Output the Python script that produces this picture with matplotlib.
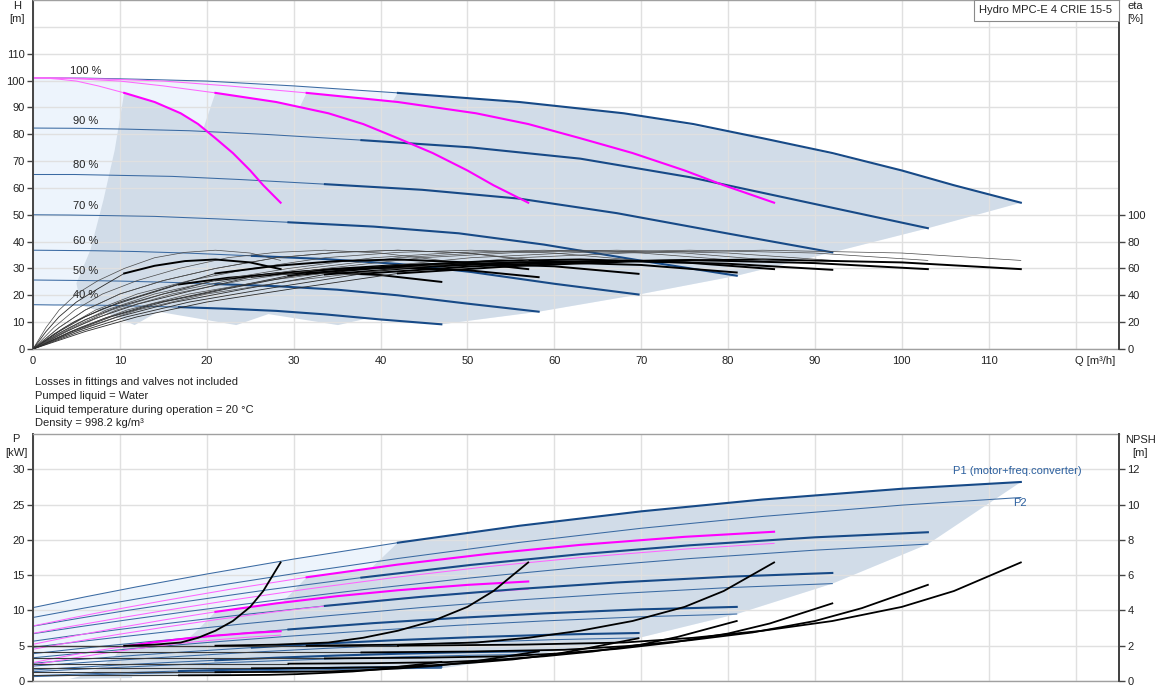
import matplotlib
matplotlib.use("Agg")
import matplotlib.pyplot as plt
from matplotlib.patches import Rectangle
from matplotlib.transforms import blended_transform_factory

plt.rcParams['font.family'] = ['Liberation Sans', 'DejaVu Sans']

# ---------------- data ----------------
# flow points along each curve [m3/h]
Q_1P    = [0, 1.5, 3, 5, 7.5, 10.5, 14, 17.5, 21, 25, 28.5]
Q_2P    = [0, 3, 6, 10, 15, 21, 28, 35, 42, 50, 57]
Q_3P    = [0, 4.5, 9, 15, 22.5, 31.5, 42, 52.5, 63, 75, 85.3]
Q_4P100 = [0, 6, 12, 20, 30, 42, 56, 70, 84, 100, 113.7]
Q_4P90  = [0, 5.4, 10.8, 18, 27, 37.8, 50.4, 63, 75.6, 90, 103]
Q_4P80  = [0, 4.8, 9.6, 16, 24, 33.6, 44.8, 56, 67.2, 80, 92]
Q_4P70  = [0, 4.2, 8.4, 14, 21, 29.4, 39.2, 49, 58.8, 70, 81]
Q_4P60  = [0, 3.6, 7.2, 12, 18, 25.2, 33.6, 42, 50.4, 60, 69.7]
Q_4P50  = [0, 3, 6, 10, 15, 21, 28, 35, 42, 50, 58.2]
Q_4P40  = [0, 2.4, 4.8, 8, 12, 16.8, 22.4, 28, 33.6, 40, 47]

# denser flow points on the operating (thick) part of each curve
QF_1P    = [10.5, 14, 17, 19, 21, 23, 25, 26.5, 28.5]
QF_2P    = [21, 28, 34, 38, 42, 46, 50, 53, 57]
QF_3P    = [31.5, 42, 51, 57, 63, 69, 75, 79.5, 85.3]
QF_4P100 = [42, 56, 68, 76, 84, 92, 100, 106, 113.7]
QF_4P90  = [37.8, 50.4, 61.2, 68.4, 75.6, 82.8, 90, 95.4, 103]
QF_4P80  = [33.6, 44.8, 54.4, 60.8, 67.2, 73.6, 80, 84.8, 92]
QF_4P70  = [29.4, 39.2, 47.6, 53.2, 58.8, 64.4, 70, 74.2, 81]
QF_4P60  = [25.2, 33.6, 40.8, 45.6, 50.4, 55.2, 60, 63.6, 69.7]
QF_4P50  = [21, 28, 34, 38, 42, 46, 50, 53, 58.2]
QF_4P40  = [16.8, 22.4, 27.2, 30.4, 33.6, 36.8, 40, 42.4, 47]

# head [m]
H_100 = [101, 100.9, 100.5, 99.8, 98.0, 95.4, 92.1, 87, 78.5, 66, 54.5]
H_90  = [82.3, 82.2, 81.9, 81.3, 79.9, 77.8, 75.1, 70.9, 64.0, 54.0, 45.0]
H_80  = [65.0, 65.0, 64.7, 64.3, 63.1, 61.4, 59.3, 56.0, 50.6, 43.0, 36.0]
H_70  = [50.0, 49.9, 49.7, 49.4, 48.5, 47.2, 45.6, 43.1, 38.9, 32.9, 27.3]
H_60  = [36.8, 36.7, 36.6, 36.3, 35.7, 34.7, 33.5, 31.7, 28.7, 24.3, 20.3]
H_50  = [25.7, 25.6, 25.5, 25.3, 24.9, 24.2, 23.4, 22.1, 20.0, 16.9, 13.9]
H_40  = [16.5, 16.4, 16.4, 16.3, 16.0, 15.6, 15.0, 14.2, 12.9, 11.0, 9.2]
HF_100 = [95.4, 92.0, 87.8, 83.8, 78.5, 73.0, 66.5, 61.0, 54.5]

# efficiency [%]
ETA_HYD     = [0, 16, 29, 41, 51, 60, 68, 72, 73.6, 71.5, 66]
ETA_TOT_100 = [0, 13, 24, 35, 45, 56.3, 62, 65.5, 66.7, 64.5, 59.5]
ETA_TOT_90  = [0, 13, 24, 35, 45, 56, 61.5, 65, 66.3, 64, 59.5]
ETA_TOT_80  = [0, 12.8, 23.6, 34.5, 44.3, 55.5, 61, 64.5, 65.7, 63.5, 59]
ETA_TOT_70  = [0, 12.6, 23.3, 34, 43.6, 54.6, 60.1, 63.5, 64.7, 62.6, 57]
ETA_TOT_60  = [0, 12.4, 22.9, 33.4, 43, 53.8, 59.2, 62.6, 63.7, 61.6, 56]
ETA_TOT_50  = [0, 11.8, 21.8, 31.9, 41, 51.2, 56.4, 59.6, 60.7, 58.7, 53.5]
ETA_TOT_40  = [0, 11.1, 20.5, 29.9, 38.5, 48.1, 53, 56, 57, 55.1, 50]

# power P1 (motor + converter) [kW]
P1_1P    = [2.6, 2.98, 3.34, 3.79, 4.32, 4.9, 5.5, 6.01, 6.43, 6.81, 7.05]
P1_2P    = [5.2, 5.96, 6.68, 7.58, 8.64, 9.8, 11.0, 12.02, 12.86, 13.62, 14.1]
P1_3P    = [7.8, 8.94, 10.02, 11.37, 12.96, 14.7, 16.5, 18.03, 19.29, 20.43, 21.15]
P1_4P100 = [10.4, 11.92, 13.36, 15.16, 17.28, 19.6, 22.0, 24.04, 25.72, 27.24, 28.2]
P1_4P90  = [7.77, 8.91, 9.99, 11.33, 12.92, 14.65, 16.45, 17.97, 19.23, 20.36, 21.08]
P1_4P80  = [5.64, 6.47, 7.25, 8.23, 9.38, 10.64, 11.94, 13.05, 13.96, 14.78, 15.31]
P1_4P70  = [3.87, 4.44, 4.98, 5.65, 6.44, 7.30, 8.20, 8.95, 9.58, 10.15, 10.50]
P1_4P60  = [2.51, 2.88, 3.22, 3.66, 4.17, 4.73, 5.31, 5.80, 6.20, 6.57, 6.80]
P1_4P50  = [1.56, 1.79, 2.0, 2.27, 2.59, 2.94, 3.30, 3.61, 3.86, 4.09, 4.23]
P1_4P40  = [0.75, 0.86, 0.96, 1.09, 1.24, 1.41, 1.58, 1.72, 1.85, 1.95, 2.02]

# power P2 (shaft) [kW]
P2_1P    = [2.25, 2.59, 2.91, 3.32, 3.80, 4.34, 4.91, 5.41, 5.83, 6.23, 6.50]
P2_2P    = [4.5, 5.18, 5.82, 6.64, 7.6, 8.68, 9.82, 10.82, 11.66, 12.46, 13.0]
P2_3P    = [6.75, 7.77, 8.73, 9.96, 11.4, 13.02, 14.73, 16.23, 17.49, 18.69, 19.5]
P2_4P100 = [9.0, 10.36, 11.64, 13.28, 15.2, 17.36, 19.64, 21.64, 23.32, 24.92, 26.0]
P2_4P90  = [6.7, 7.7, 8.66, 9.88, 11.31, 12.92, 14.61, 16.1, 17.35, 18.54, 19.4]
P2_4P80  = [4.78, 5.5, 6.18, 7.05, 8.07, 9.21, 10.42, 11.49, 12.38, 13.23, 13.8]
P2_4P70  = [3.29, 3.78, 4.25, 4.85, 5.55, 6.34, 7.17, 7.9, 8.51, 9.1, 9.49]
P2_4P60  = [2.12, 2.43, 2.74, 3.12, 3.57, 4.08, 4.62, 5.09, 5.48, 5.86, 6.11]
P2_4P50  = [1.32, 1.52, 1.70, 1.94, 2.22, 2.54, 2.87, 3.16, 3.41, 3.64, 3.80]
P2_4P40  = [0.62, 0.72, 0.81, 0.92, 1.05, 1.20, 1.36, 1.50, 1.61, 1.73, 1.80]

# NPSH [m]: start value (thin part) and operating part at the QF_* points
NPSH0  = [2.0, 1.62, 1.28, 0.98, 0.72, 0.5, 0.32]          # 100 % ... 40 %
NPSHF_100 = [2.0, 2.06, 2.18, 2.45, 2.85, 3.4, 4.2, 5.1, 6.72]
NPSHF_90  = [1.62, 1.67, 1.77, 1.98, 2.31, 2.75, 3.4, 4.13, 5.45]
NPSHF_80  = [1.28, 1.32, 1.40, 1.57, 1.82, 2.18, 2.69, 3.26, 4.4]
NPSHF_70  = [0.98, 1.01, 1.07, 1.20, 1.40, 1.67, 2.06, 2.5, 3.4]
NPSHF_60  = [0.72, 0.74, 0.78, 0.88, 1.03, 1.22, 1.51, 1.84, 2.42]
NPSHF_50  = [0.5, 0.515, 0.545, 0.61, 0.71, 0.85, 1.05, 1.28, 1.68]
NPSHF_40  = [0.32, 0.33, 0.35, 0.39, 0.46, 0.54, 0.67, 0.82, 1.08]

# shaded operating areas (outline points)
TOP_DARK_Q = [5.5, 5.0, 6.6, 8.1, 9.4, 10.5, 14, 17, 19.6, 21, 28, 30.7, 31.5,
              41.4, 42, 56, 68, 84, 100, 113.7, 103, 92, 81, 69.7, 58.2, 47,
              38.8, 35.1, 27.1, 23.4, 14.4, 11.7, 9.0]
TOP_DARK_H = [16.3, 24.5, 36.8, 55.4, 74, 95.4, 92.0, 87.8, 82, 95.4, 92.0, 90.1, 95.4,
              92.3, 95.4, 92.0, 87.8, 78.5, 66.5, 54.5, 45, 36, 27.3, 20.3, 13.9, 9.2,
              11.6, 8.9, 13.0, 8.9, 13.9, 8.9, 12.8]
BOT_DARK_Q = [4.2, 5.25, 6.3, 7.35, 8.4, 9.45, 10.5, 14, 17.85, 18.9, 21, 28.8, 31.5,
              38.8, 42, 56, 70, 84, 100, 113.7, 103, 92, 81, 69.7, 58.2, 47, 40,
              34.2, 34.2, 25.2, 22.8, 22.8, 16.8, 11.4, 11.4, 7.0]
BOT_DARK_P = [0.3, 0.61, 1.06, 1.68, 2.51, 3.57, 4.9, 5.5, 6.05, 7.14, 9.8, 11.26, 14.7,
              15.85, 19.6, 22.0, 24.04, 25.72, 27.24, 28.2, 19.4, 13.8, 9.5, 6.1, 3.8,
              1.8, 1.73, 1.62, 1.25, 1.12, 1.08, 0.83, 0.75, 0.63, 0.42, 0.35]

SPEED_LABELS = ['100 %', '90 %', '80 %', '70 %', '60 %', '50 %', '40 %']
NOTES = ['Losses in fittings and valves not included',
         'Pumped liquid = Water',
         'Liquid temperature during operation = 20 °C',
         'Density = 998.2 kg/m³']
TITLE = 'Hydro MPC-E 4 CRIE 15-5'
X_TICKS = list(range(0, 120, 10))

# ---------------- styling ----------------
W, Hpx = 1162, 700
BLUE = '#174a87'
BLUE_THIN = '#3a6aa2'
MAG = '#ff00ff'
MAG_THIN = '#ff66ff'
LIGHT = '#edf4fc'
DARK = '#d1dce8'
GRIDC = '#e0e0e0'
TXT = '#222222'
FS = 8
TH = 5  # index where the thick (operating) part starts

curves = [
    # Q, QF, H, HF, eta_tot, P1, P2, NPSH0, NPSHF, kind
    (Q_4P40, QF_4P40, H_40, None, ETA_TOT_40, P1_4P40, P2_4P40, NPSH0[6], NPSHF_40, 'b'),
    (Q_4P50, QF_4P50, H_50, None, ETA_TOT_50, P1_4P50, P2_4P50, NPSH0[5], NPSHF_50, 'b'),
    (Q_4P60, QF_4P60, H_60, None, ETA_TOT_60, P1_4P60, P2_4P60, NPSH0[4], NPSHF_60, 'b'),
    (Q_4P70, QF_4P70, H_70, None, ETA_TOT_70, P1_4P70, P2_4P70, NPSH0[3], NPSHF_70, 'b'),
    (Q_4P80, QF_4P80, H_80, None, ETA_TOT_80, P1_4P80, P2_4P80, NPSH0[2], NPSHF_80, 'b'),
    (Q_4P90, QF_4P90, H_90, None, ETA_TOT_90, P1_4P90, P2_4P90, NPSH0[1], NPSHF_90, 'b'),
    (Q_4P100, QF_4P100, H_100, HF_100, ETA_TOT_100, P1_4P100, P2_4P100, NPSH0[0], NPSHF_100, 'b'),
    (Q_3P, QF_3P, H_100, HF_100, ETA_TOT_100, P1_3P, P2_3P, NPSH0[0], NPSHF_100, 'm'),
    (Q_2P, QF_2P, H_100, HF_100, ETA_TOT_100, P1_2P, P2_2P, NPSH0[0], NPSHF_100, 'm'),
    (Q_1P, QF_1P, H_100, HF_100, ETA_TOT_100, P1_1P, P2_1P, NPSH0[0], NPSHF_100, 'm'),
]

fig = plt.figure(figsize=(W / 100, Hpx / 100), dpi=100)
ax = fig.add_axes([33 / W, (Hpx - 349) / Hpx, 1086 / W, 349 / Hpx])
axb = fig.add_axes([33 / W, (Hpx - 681) / Hpx, 1086 / W, 247 / Hpx])


def style_axes(a, ylim, yticks, xlabels):
    a.set_xlim(0, 125)
    a.set_ylim(*ylim)
    a.set_xticks(X_TICKS)
    if xlabels:
        a.set_xticklabels([str(v) for v in X_TICKS])
    else:
        a.set_xticklabels([])
    a.set_yticks(yticks)
    a.grid(True, color=GRIDC, lw=1.0, zorder=0.5)
    a.axvline(120, color=GRIDC, lw=1.0, zorder=0.5)
    a.set_axisbelow(True)
    a.tick_params(axis='x', length=0, labelsize=FS, pad=5, colors=TXT)
    a.tick_params(axis='y', direction='out', length=4, width=1.0, color='#444444',
                  labelsize=FS, pad=2, labelcolor=TXT)
    for s in ('left', 'right'):
        a.spines[s].set_color('#444444')
        a.spines[s].set_linewidth(1.4)
    for s in ('top', 'bottom'):
        a.spines[s].set_color('#a0a0a0')
        a.spines[s].set_linewidth(1.0)


style_axes(ax, (0, 130), list(range(0, 111, 10)), True)
ax.axhline(120, color=GRIDC, lw=1.0, zorder=0.5)
style_axes(axb, (0, 35), list(range(0, 31, 5)), False)

# ---------- top: shaded areas ----------
light_q = Q_4P100 + [c[0][-1] for c in curves[5::-1]] + Q_4P40[::-1]
light_h = H_100 + [c[2][-1] for c in curves[5::-1]] + H_40[::-1]
ax.fill(light_q, light_h, color=LIGHT, lw=0, zorder=0.2)
ax.fill(TOP_DARK_Q, TOP_DARK_H, color=DARK, lw=0, zorder=0.3)

# ---------- bottom: shaded areas ----------
bl_q = Q_4P100 + [c[0][-1] for c in curves[5::-1]] + Q_4P40[::-1]
bl_p = P1_4P100 + [c[6][-1] for c in curves[5::-1]] + P2_4P40[::-1]
axb.fill(bl_q, bl_p, color=LIGHT, lw=0, zorder=0.2)
axb.fill(BOT_DARK_Q, BOT_DARK_P, color=DARK, lw=0, zorder=0.3)

# ---------- curves ----------
for q, qf, h, hf, et, p1, p2, n0, nf, kind in curves:
    c_thick, c_thin = (BLUE, BLUE_THIN) if kind == 'b' else (MAG, MAG_THIN)
    ax.plot(q[:TH + 1], h[:TH + 1], color=c_thin, lw=0.75, zorder=2)
    if hf is not None:
        ax.plot(qf, hf, color=c_thick, lw=1.5, zorder=3)
    else:
        ax.plot(q[TH:], h[TH:], color=c_thick, lw=1.5, zorder=3)
    axb.plot(q, p2, color=c_thin, lw=0.75, zorder=2)
    axb.plot(q[:TH + 1], p1[:TH + 1], color=c_thin, lw=0.75, zorder=2)
    axb.plot(q[TH:], p1[TH:], color=c_thick, lw=1.5, zorder=3)

ax_eta = ax.twinx()
ax_eta.set_ylim(0, 260)
ax_eta.set_yticks(list(range(0, 101, 20)))
ax_n = axb.twinx()
ax_n.set_ylim(0, 14)
ax_n.set_yticks(list(range(0, 13, 2)))
for a in (ax_eta, ax_n):
    a.set_xlim(0, 125)
    a.tick_params(axis='y', direction='out', length=4, width=1.0, color='#444444',
                  labelsize=FS, pad=2, labelcolor=TXT)
    for s in ('left', 'top', 'bottom'):
        a.spines[s].set_visible(False)
    a.spines['right'].set_color('#444444')
    a.spines['right'].set_linewidth(1.4)

for q, qf, h, hf, et, p1, p2, n0, nf, kind in curves:
    ax_eta.plot(q, ETA_HYD, color='#4a4a4a', lw=0.5)
    ax_eta.plot(q[:TH + 1], et[:TH + 1], color='#2a2a2a', lw=0.6)
    ax_eta.plot(q[TH:], et[TH:], color='black', lw=1.4)
    ax_n.plot([q[0], qf[0]], [n0, nf[0]], color='#3a3a3a', lw=0.8)
    ax_n.plot(qf, nf, color='black', lw=1.3)

# ---------- texts ----------
label_h = [103.7, 85.1, 68.4, 53.2, 40.1, 29.0, 20.0]
for lab, yv in zip(SPEED_LABELS, label_h):
    ax.text(6.1, yv, lab, ha='center', va='center', fontsize=FS, color=TXT, zorder=5)

tr = blended_transform_factory(ax.transData, ax.transAxes)
ax.text(122.2, -12 / 349, 'Q [m³/h]', transform=tr, ha='center', va='center',
        fontsize=FS, color=TXT)

axb.text(120.7, 29.7, 'P1 (motor+freq.converter)', ha='right', va='center',
         fontsize=FS, color='#2b5f9e', zorder=5)
axb.text(113.6, 25.25, 'P2', ha='center', va='center', fontsize=FS,
         color='#2b5f9e', zorder=5)


def ftext(x, y, s, **kw):
    fig.text(x / W, 1 - y / Hpx, s, **kw)


ftext(17, 12.5, 'H\n[m]', ha='center', va='center', fontsize=FS, linespacing=1.45, color=TXT)
ftext(1135, 12.5, 'eta\n[%]', ha='center', va='center', fontsize=FS, linespacing=1.45, color=TXT)
ftext(16, 446, 'P\n[kW]', ha='center', va='center', fontsize=FS, linespacing=1.45, color=TXT)
ftext(1140, 446.5, 'NPSH\n[m]', ha='center', va='center', fontsize=FS, linespacing=1.45, color=TXT)

for i, line in enumerate(NOTES):
    ftext(35, 382.3 + i * 13.7, line, ha='left', va='center', fontsize=FS, color=TXT)

fig.patches.append(Rectangle((974 / W, 1 - 21 / Hpx), 145 / W, 21 / Hpx,
                             transform=fig.transFigure, facecolor='white',
                             edgecolor='#8a8a8a', lw=0.8, zorder=10))
ftext(979, 10, TITLE, ha='left', va='center', fontsize=FS, color=TXT, zorder=11)

fig.savefig('out.png', dpi=100)
